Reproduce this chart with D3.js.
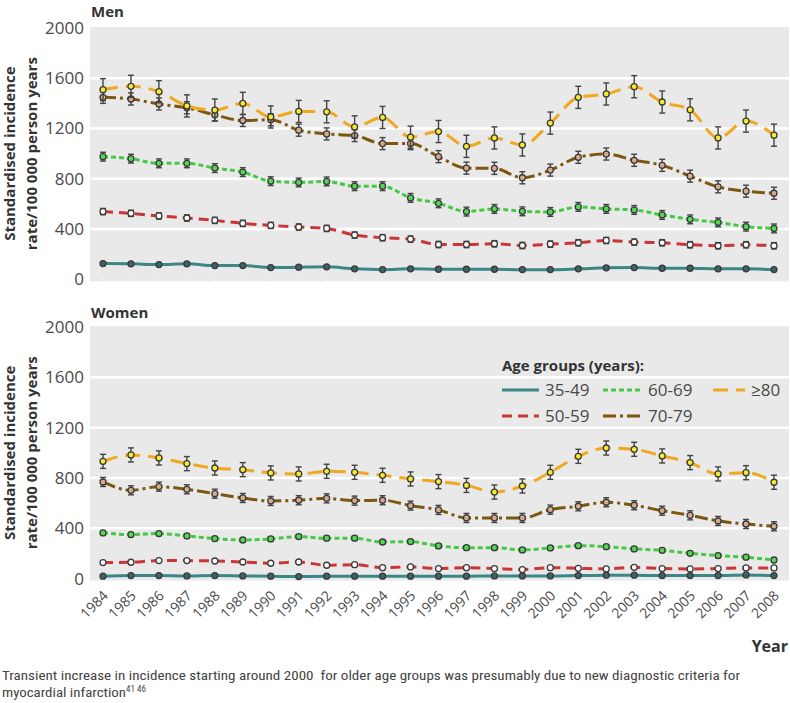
<!DOCTYPE html>
<html>
<head>
<meta charset="utf-8">
<script src="https://cdn.jsdelivr.net/npm/d3@7"></script>
<style>
  html, body { margin: 0; padding: 0; background: #fff; }
  svg { display: block; }
</style>
</head>
<body>
<svg id="chart" width="790" height="703"></svg>
<script>
const years = ["1984","1985","1986","1987","1988","1989","1990","1991","1992","1993","1994","1995","1996","1997","1998","1999","2000","2001","2002","2003","2004","2005","2006","2007","2008"];
const ageGroups = ["35-49","50-59","60-69","70-79","≥80"];
const yTicks = [0, 400, 800, 1200, 1600, 2000];

// Men
const men3549 = [125,123,117,123,109,109,93,96,99,83,77,83,80,80,80,77,77,83,91,93,88,88,83,83,77];
const men5059 = [539,525,504,488,469,445,429,416,405,352,331,320,277,277,283,269,280,291,309,296,291,275,267,275,267];
const men6069 = [976,960,923,923,885,853,781,771,779,741,741,648,605,539,560,541,536,576,560,552,512,477,453,419,405];
const men7079 = [1448,1435,1395,1365,1309,1264,1270,1187,1157,1144,1080,1080,976,885,883,808,869,971,997,947,907,821,736,701,685];
const men80   = [1509,1536,1493,1380,1347,1400,1292,1336,1333,1213,1288,1131,1176,1058,1125,1069,1243,1448,1475,1533,1411,1349,1125,1259,1147];
const menErr  = [0, 25, 35, 48, 88];

// Women
const women3549 = [19,24,24,21,24,21,19,16,19,19,19,19,19,19,21,21,21,24,27,27,24,24,24,29,24];
const women5059 = [127,130,143,143,140,132,122,132,106,111,87,93,80,87,80,72,87,82,77,90,80,77,80,85,85];
const women6069 = [363,350,358,339,318,307,315,334,321,321,291,294,260,246,246,228,244,262,254,236,225,201,183,170,148];
const women7079 = [768,702,731,710,675,641,617,623,638,620,623,580,546,482,482,482,548,575,607,583,540,503,458,434,416];
const women80   = [932,983,959,914,879,866,840,832,853,845,821,792,771,741,688,736,845,972,1038,1028,975,922,832,842,766];
const womenErr  = [0, 0, 16, 36, 56];

const colors = ["#3b8787", "#cc3535", "#45c845", "#7d5610", "#f0a81e"];
const fills  = ["#3f6464", "#ffffff", "#52d852", "#d9aa8c", "#f4ec2c"];
const dashes = [null, "10,6", "5,3", "13,4,3,4", "15,8"];

const svg = d3.select("#chart");
svg.append("rect").attr("width", 790).attr("height", 703).attr("fill", "#fff");

const x = d3.scalePoint().domain(years).range([103, 774]);

const panels = [
  { title: "Men", titleY: 17, top: 28, bottom: 279.3, series: [men3549, men5059, men6069, men7079, men80], err: menErr },
  { title: "Women", titleY: 318, top: 327, bottom: 578.6, series: [women3549, women5059, women6069, women7079, women80], err: womenErr }
];

const axisFont = "'Open Sans', 'Noto Sans', sans-serif";

panels.forEach((p, pi) => {
  const y = d3.scaleLinear().domain([0, 2000]).range([p.bottom, p.top]);
  const g = svg.append("g");

  g.append("rect").attr("x", 90).attr("y", p.top - 1).attr("width", 699)
    .attr("height", p.bottom - p.top + 3).attr("fill", "#e9e9e9");

  // gridlines
  g.selectAll(".grid").data(yTicks.filter(t => t > 0 && t < 2000)).enter().append("line")
    .attr("x1", 90).attr("x2", 789)
    .attr("y1", d => y(d)).attr("y2", d => y(d))
    .attr("stroke", "#fff").attr("stroke-width", 2.5);

  // y tick labels
  g.selectAll(".ytl").data(yTicks).enter().append("text")
    .attr("x", 84).attr("y", d => y(d)).attr("dy", "0.35em")
    .attr("text-anchor", "end")
    .attr("font-family", axisFont).attr("font-size", 17).attr("fill", "#4a4a4a")
    .text(d => d);

  // x ticks
  g.selectAll(".xt").data(years).enter().append("line")
    .attr("x1", d => x(d)).attr("x2", d => x(d))
    .attr("y1", p.bottom - 1).attr("y2", p.bottom + 3)
    .attr("stroke", "#fafafa").attr("stroke-width", 1.2);

  // title
  g.append("text").attr("x", 91).attr("y", p.titleY)
    .attr("font-family", axisFont).attr("font-weight", "bold").attr("font-size", 15)
    .attr("fill", "#333").text(p.title);

  // y axis title
  const cy = (p.top + p.bottom) / 2;
  const yt = g.append("text").attr("transform", `translate(0,${cy}) rotate(-90)`)
    .attr("text-anchor", "middle")
    .attr("font-family", axisFont).attr("font-weight", "bold").attr("font-size", 15)
    .attr("fill", "#333");
  yt.append("tspan").attr("x", 0).attr("y", 15).text("Standardised incidence");
  yt.append("tspan").attr("x", 0).attr("y", 37).text("rate/100 000 person years");

  const line = d3.line().x((d, i) => x(years[i])).y(d => y(d)).curve(d3.curveMonotoneX);

  p.series.forEach((vals, si) => {
    const sg = g.append("g");
    sg.append("path").datum(vals).attr("d", line)
      .attr("fill", "none").attr("stroke", colors[si]).attr("stroke-width", 3)
      .attr("stroke-dasharray", dashes[si]);
    const e = p.err[si];
    if (e > 0) {
      const eb = sg.selectAll(".eb").data(vals).enter().append("g");
      eb.append("line").attr("x1", (d, i) => x(years[i])).attr("x2", (d, i) => x(years[i]))
        .attr("y1", d => y(d - e)).attr("y2", d => y(d + e))
        .attr("stroke", "#444").attr("stroke-width", 1.4);
      eb.append("line").attr("x1", (d, i) => x(years[i]) - 3).attr("x2", (d, i) => x(years[i]) + 3)
        .attr("y1", d => y(d + e)).attr("y2", d => y(d + e))
        .attr("stroke", "#444").attr("stroke-width", 1.4);
      eb.append("line").attr("x1", (d, i) => x(years[i]) - 3).attr("x2", (d, i) => x(years[i]) + 3)
        .attr("y1", d => y(d - e)).attr("y2", d => y(d - e))
        .attr("stroke", "#444").attr("stroke-width", 1.4);
    }
    sg.selectAll(".pt").data(vals).enter().append("circle")
      .attr("cx", (d, i) => x(years[i])).attr("cy", d => y(d)).attr("r", 3)
      .attr("fill", fills[si]).attr("stroke", "#3a3a3a").attr("stroke-width", 1.3);
  });

  if (pi === 1) {
    // x labels
    g.selectAll(".xl").data(years).enter().append("text")
      .attr("transform", d => `translate(${x(d) + 6},${p.bottom + 18}) rotate(-45)`)
      .attr("text-anchor", "end")
      .attr("font-family", axisFont).attr("font-size", 14).attr("fill", "#4a4a4a")
      .text(d => d);

    // legend
    const lg = g.append("g");
    lg.append("text").attr("x", 502).attr("y", 371)
      .attr("font-family", axisFont).attr("font-weight", "bold").attr("font-size", 15)
      .attr("fill", "#333").text("Age groups (years):");
    const pos = [[502, 390], [502, 416], [603, 390], [603, 416], [713, 390]];
    const lens = [37, 37, 39, 39, 32];
    ageGroups.forEach((a, i) => {
      const [lx, ly] = pos[i];
      lg.append("line").attr("x1", lx).attr("x2", lx + lens[i]).attr("y1", ly).attr("y2", ly)
        .attr("stroke", colors[i]).attr("stroke-width", 3)
        .attr("stroke-dasharray", dashes[i]);
      lg.append("text").attr("x", lx + lens[i] + 6).attr("y", ly).attr("dy", "0.35em")
        .attr("font-family", axisFont).attr("font-size", 17).attr("fill", "#4a4a4a")
        .text(a);
    });
  }
});

// Year label
svg.append("text").attr("x", 788).attr("y", 652).attr("text-anchor", "end")
  .attr("font-family", axisFont).attr("font-weight", "bold").attr("font-size", 16)
  .attr("fill", "#333").text("Year");

// caption
const capFont = "'Liberation Sans Narrow', 'Roboto Condensed', 'Roboto', sans-serif";
svg.append("text").attr("x", 2).attr("y", 680)
  .style("white-space", "pre")
  .attr("font-family", capFont).attr("font-size", 13).attr("fill", "#444")
  .attr("textLength", 738).attr("lengthAdjust", "spacingAndGlyphs")
  .text("Transient increase in incidence starting around 2000  for older age groups was presumably due to new diagnostic criteria for");
const c2 = svg.append("text").attr("x", 2).attr("y", 697)
  .attr("font-family", capFont).attr("font-size", 13).attr("fill", "#444");
c2.append("tspan").attr("textLength", 124).attr("lengthAdjust", "spacingAndGlyphs").text("myocardial infarction");
c2.append("tspan").attr("dy", -5).attr("font-size", 9).text("41 46");
</script>
</body>
</html>
